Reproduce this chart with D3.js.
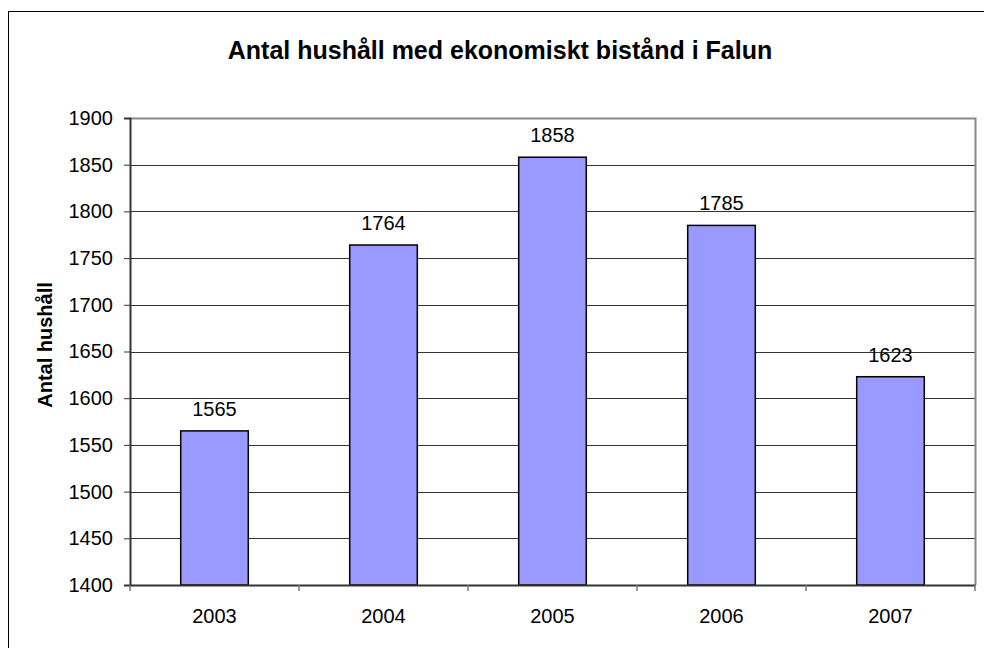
<html lang="sv">
<head>
<meta charset="utf-8">
<title>Antal hushåll med ekonomiskt bistånd i Falun</title>
<script src="https://d3js.org/d3.v7.min.js"></script>
<style>
  body { margin: 0; background: #fff; font-family: "Liberation Sans", Arial, sans-serif; }
  .tick text { font-family: "Liberation Sans", Arial, sans-serif; }
</style>
</head>
<body>
<div class="main"></div>
<script>
var years = ["2003", "2004", "2005", "2006", "2007"]
var households = [1565, 1764, 1858, 1785, 1623]
var yTicks = [1400, 1450, 1500, 1550, 1600, 1650, 1700, 1750, 1800, 1850, 1900]

var width = 984, height = 648
var plot = {left: 130, right: 975, top: 118, bottom: 585}

var svg = d3.select(".main").append("svg")
  .attr("width", width).attr("height", height)

// outer chart frame (cropped at right and bottom)
svg.append("rect")
  .attr("x", 8.5).attr("y", 11.5)
  .attr("width", width + 10).attr("height", height + 10)
  .attr("fill", "none").attr("stroke", "#000").attr("stroke-width", 1)

var x = d3.scaleBand().domain(years).range([plot.left, plot.right]).paddingInner(0).paddingOuter(0)
var y = d3.scaleLinear().domain([1400, 1900]).range([plot.bottom, plot.top])

// gridlines
svg.append("g").selectAll("line")
  .data(yTicks.slice(1, -1))
  .enter().append("line")
  .attr("x1", plot.left).attr("x2", plot.right)
  .attr("y1", function(d){ return Math.round(y(d)) + 0.5 })
  .attr("y2", function(d){ return Math.round(y(d)) + 0.5 })
  .attr("stroke", "#333").attr("stroke-width", 1)

// plot area border top/right
svg.append("path")
  .attr("d", "M" + plot.left + "," + (plot.top + 0.5) + "H" + (plot.right + 0.5) + "V" + plot.bottom)
  .attr("fill", "none").attr("stroke", "#888").attr("stroke-width", 2)

// bars
var bw = x.bandwidth() * 0.4
svg.append("g").selectAll("rect")
  .data(years)
  .enter().append("rect")
  .attr("x", function(d){ return x(d) + (x.bandwidth() - bw) / 2 })
  .attr("y", function(d, i){ return y(households[i]) })
  .attr("width", bw)
  .attr("height", function(d, i){ return plot.bottom - y(households[i]) })
  .attr("fill", "#9999ff").attr("stroke", "#000").attr("stroke-width", 1.5)

// value labels
svg.append("g").selectAll("text")
  .data(years)
  .enter().append("text")
  .attr("x", function(d){ return x(d) + x.bandwidth() / 2 })
  .attr("y", function(d, i){ return y(households[i]) - 15 })
  .attr("text-anchor", "middle")
  .attr("font-size", "20px").attr("fill", "#000")
  .text(function(d, i){ return households[i] })

// y axis
var yAxis = svg.append("g")
  .attr("transform", "translate(" + plot.left + ",0)")
  .call(d3.axisLeft(y).tickValues(yTicks).tickSize(6).tickPadding(11).tickFormat(d3.format("d")))
yAxis.select(".domain").attr("stroke", "#333").attr("stroke-width", 2)
yAxis.selectAll(".tick line").attr("stroke", "#333")
yAxis.selectAll(".tick text").attr("font-size", "20px").attr("fill", "#000")

// x axis
var xAxis = svg.append("g")
  .attr("transform", "translate(0," + plot.bottom + ")")
  .call(d3.axisBottom(x).tickSize(0).tickPadding(24))
xAxis.select(".domain").attr("stroke", "#333").attr("stroke-width", 2)
xAxis.selectAll(".tick text").attr("font-size", "20px").attr("fill", "#000")

// category boundary ticks
svg.append("g").selectAll("line")
  .data(years.concat(["end"]))
  .enter().append("line")
  .attr("x1", function(d, i){ return plot.left + i * x.bandwidth() })
  .attr("x2", function(d, i){ return plot.left + i * x.bandwidth() })
  .attr("y1", plot.bottom).attr("y2", plot.bottom + 6)
  .attr("stroke", "#777").attr("stroke-width", 1.5)

// title
svg.append("text")
  .attr("x", 500).attr("y", 59)
  .attr("text-anchor", "middle")
  .attr("font-size", "25px").attr("font-weight", "bold")
  .text("Antal hushåll med ekonomiskt bistånd i Falun")

// y axis title
svg.append("text")
  .attr("transform", "translate(52,345) rotate(-90)")
  .attr("text-anchor", "middle")
  .attr("font-size", "20px").attr("font-weight", "bold")
  .text("Antal hushåll")
</script>
</body>
</html>
